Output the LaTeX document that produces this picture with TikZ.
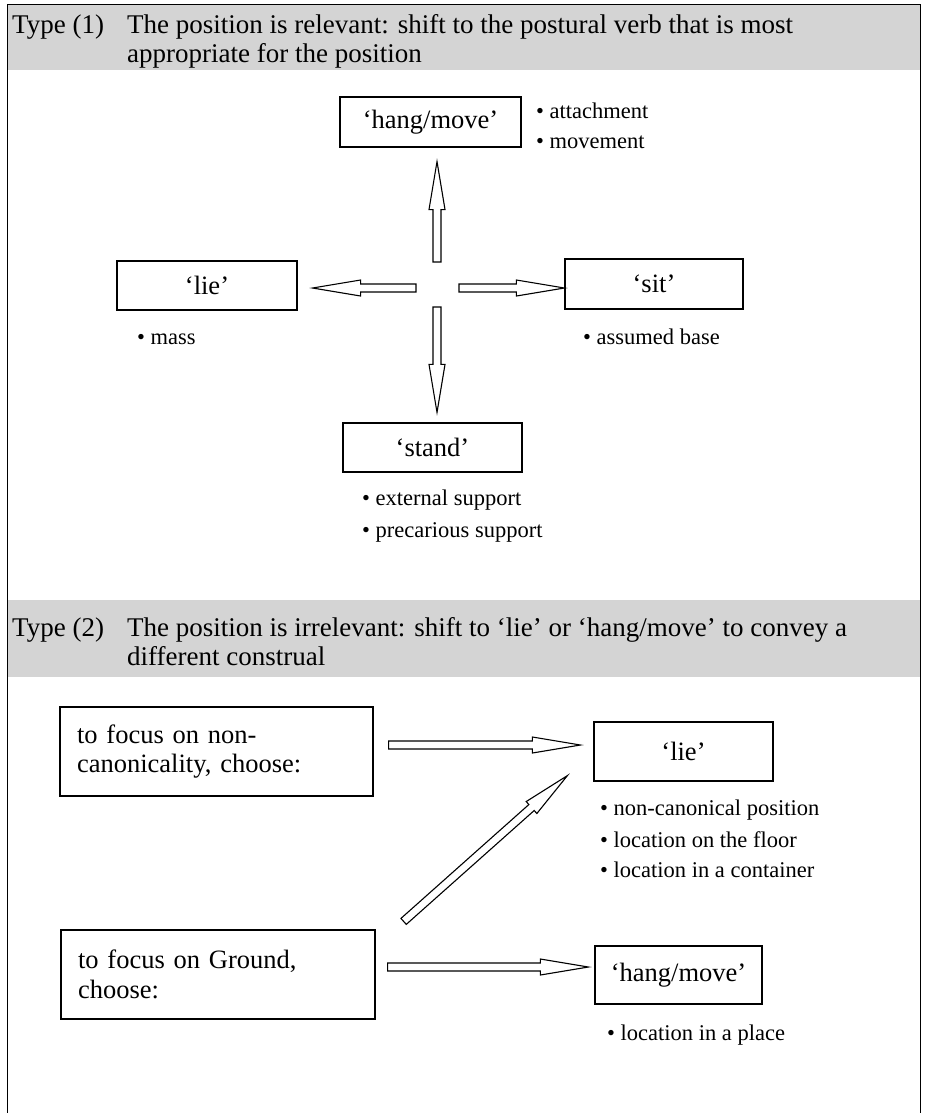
\documentclass[tikz,border=0pt]{standalone}
\usepackage{fontspec}
\setmainfont{Liberation Serif}
\usetikzlibrary{calc}
\newcommand\hollowarrow[3]{%
  \draw[arrowline] let \p1=(#1), \p2=(#2),
    \n1={atan2(\y2-\y1,\x2-\x1)},
    \n2={veclen(\x2-\x1,\y2-\y1)},
    \n3={\n2-#3}, \n4={\n3-48} in
    {[shift={(\p1)},rotate=\n1]
     (0,-4) -- (\n4,-4) -- (\n4,-8) -- (\n3,0) -- (\n4,8) -- (\n4,4) -- (0,4) -- cycle};}
\begin{document}
\begin{tikzpicture}[x=1pt,y=-1pt,
  box/.style={draw, line width=1.2pt, inner sep=0pt, font=\fontsize{26.5}{29.5}\selectfont},
  lbox/.style={box, align=left, text width=#1},
  bul/.style={anchor=base west, inner sep=0pt, font=\fontsize{22.5}{26}\selectfont},
  hdr/.style={anchor=base west, inner sep=0pt, font=\fontsize{27}{29}\selectfont},
  band/.style={fill=black!17},
  frame/.style={draw, line width=0.9pt},
  arrowline/.style={draw, line width=1.1pt, fill=white, line join=miter}
]
\useasboundingbox (0,0) rectangle (924,1113);
% bands and frame
\fill[band] (7,4) rectangle (920,70);
\fill[band] (7,600) rectangle (920,677);
\draw[frame] (7,1113) -- (7,4) -- (920,4) -- (920,1113);

% header 1
\node[hdr] (t1) at (12,34) {Type (1)};
\node[hdr] (h1a) at (127,34) {The position is relevant: shift to the postural verb that is most};
\node[hdr] (h1b) at (127,63) {appropriate for the position};

% type 1 boxes
\node[box, minimum width=181pt, minimum height=50pt] (hm) at (430.5,122) {‘hang/move’};
\node[box, minimum width=180pt, minimum height=49pt] (lieT) at (207,285.5) {‘lie’};
\node[box, minimum width=178pt, minimum height=50pt] (sit) at (654,284) {‘sit’};
\node[box, minimum width=179pt, minimum height=49pt] (stand) at (432.5,447.5) {‘stand’};

\node[bul] (b1) at (536,119) {• attachment};
\node[bul] (b2) at (536,148) {• movement};
\node[bul] (b3) at (137,344) {• mass};
\node[bul] (b4) at (583,344) {• assumed base};
\node[bul] (b5) at (362,505) {• external support};
\node[bul] (b6) at (362,537) {• precarious support};

% cross arrows
\coordinate (c) at (437,288);
\coordinate (cu) at ($(c)+(0,-26)$);
\coordinate (cl) at ($(c)+(-21,0)$);
\coordinate (cr) at ($(c)+(22,0)$);
\coordinate (cd) at ($(c)+(0,19)$);
\hollowarrow{cu}{cu |- hm.south}{14}
\hollowarrow{cl}{cl -| lieT.east}{15}
\hollowarrow{cr}{cr -| sit.west}{0}
\hollowarrow{cd}{cd |- stand.north}{10}

% header 2
\node[hdr] (t2) at (12,636) {Type (2)};
\node[hdr] (h2a) at (127,636) {The position is irrelevant: shift to ‘lie’ or ‘hang/move’ to convey a};
\node[hdr] (h2b) at (127,665) {different construal};

% type 2 boxes
\node[lbox=279pt, minimum width=313pt, minimum height=89pt] (f1) at (216.5,751.5) {to focus on non-\\canonicality, choose:};
\node[lbox=280pt, minimum width=314pt, minimum height=89pt] (f2) at (218,974.5) {to focus on Ground,\\choose:};
\node[box, minimum width=179pt, minimum height=59pt] (lieB) at (683.5,751.5) {‘lie’};
\node[box, minimum width=167pt, minimum height=58pt] (hmB) at (678.5,975) {‘hang/move’};

\node[bul] (c1) at (600,815) {• non-canonical position};
\node[bul] (c2) at (600,847) {• location on the floor};
\node[bul] (c3) at (600,877) {• location in a container};
\node[bul] (c4) at (607,1040) {• location in a place};

\coordinate (a1) at ($(f1.east)+(15,-6.5)$);
\coordinate (a2) at ($(f2.east)+(12,-7.5)$);
\coordinate (a3) at ($(f2.north east)+(28,-8)$);
\coordinate (a3t) at ($(lieB.south west)+(-26,-6)$);
\hollowarrow{a1}{a1 -| lieB.west}{13}
\hollowarrow{a2}{a2 -| hmB.west}{6}
\hollowarrow{a3}{a3t}{0}
\end{tikzpicture}
\end{document}
